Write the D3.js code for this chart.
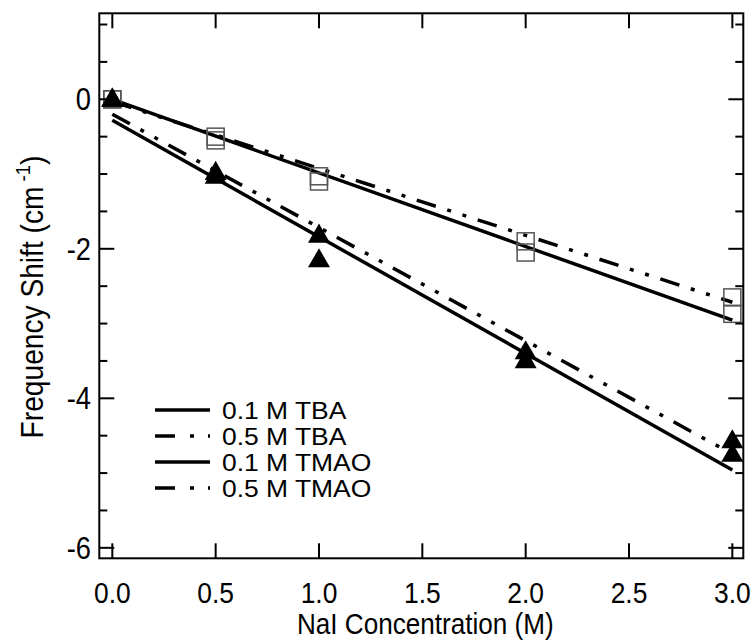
<!DOCTYPE html>
<html>
<head>
<meta charset="utf-8">
<script src="https://cdn.jsdelivr.net/npm/d3@7"></script>
<style>
  html, body { margin: 0; padding: 0; background: #fff; }
  svg text { font-family: "Liberation Sans", Arial, sans-serif; fill: #000; }
</style>
</head>
<body>
<svg id="chart" width="754" height="640"></svg>
<script>
// NaI concentration (M) at which shifts were measured
const concentrations = [0.0, 0.5, 1.0, 2.0, 3.0];

// Measured frequency shifts (cm^-1)
const tba01 = [0.0, -0.55, -1.10, -2.05, -2.87];
const tba05 = [0.0, -0.50, -1.03, -1.90, -2.65];
const tmao01 = [0.0, -1.03, -2.15, -3.50, -4.75];
const tmao05 = [0.0, -0.98, -1.82, -3.38, -4.57];

// Linear fits: shift = intercept + slope * [NaI]
const seriesNames = ["0.1 M TBA", "0.5 M TBA", "0.1 M TMAO", "0.5 M TMAO"];
const fitIntercept = [0.0, -0.03, -0.28, -0.20];
const fitSlope = [-0.985, -0.895, -1.56, -1.515];
const fitDashed = [false, true, false, true];

// Axis ticks
const xTicks = [0.0, 0.5, 1.0, 1.5, 2.0, 2.5, 3.0];
const yMajorTicks = [0, -2, -4, -6];
const yMinorTicks = d3.range(1, -6.01, -0.5);

const svg = d3.select("#chart");
const plotLeft = 99.3, plotRight = 743.3, plotTop = 13.3, plotBottom = 558.3;

const x = d3.scaleLinear().domain([-0.063, 3.053]).range([plotLeft, plotRight]);
const y = d3.scaleLinear().domain([1.15, -6.14]).range([plotTop, plotBottom]);

const dashPattern = "20,12,4,12,4,12";

// Fit lines
const fitLine = d3.line().x(d => x(d[0])).y(d => y(d[1]));
seriesNames.forEach((name, i) => {
  const pts = [0, 3].map(c => [c, fitIntercept[i] + fitSlope[i] * c]);
  svg.append("path")
    .attr("d", fitLine(pts))
    .attr("fill", "none")
    .attr("stroke", "#000")
    .attr("stroke-width", 3.5)
    .attr("stroke-dasharray", fitDashed[i] ? dashPattern : null);
});

// Open squares for TBA
const sq = 17;
[tba01, tba05].forEach(vals => {
  svg.append("g").selectAll("rect").data(vals).join("rect")
    .attr("x", (d, i) => x(concentrations[i]) - sq / 2)
    .attr("y", d => y(d) - sq / 2)
    .attr("width", sq).attr("height", sq)
    .attr("fill", "none")
    .attr("stroke", "#555")
    .attr("stroke-width", 1.5);
});

// Filled triangles for TMAO
const tri = d3.symbol().type(d3.symbolTriangle).size(210);
[tmao01, tmao05].forEach(vals => {
  svg.append("g").selectAll("path").data(vals).join("path")
    .attr("d", tri)
    .attr("transform", (d, i) => `translate(${x(concentrations[i])},${y(d) + 1})`)
    .attr("fill", "#000");
});

// Frame
svg.append("rect")
  .attr("x", plotLeft).attr("y", plotTop)
  .attr("width", plotRight - plotLeft).attr("height", plotBottom - plotTop)
  .attr("fill", "none").attr("stroke", "#000").attr("stroke-width", 2);

// Inward ticks on all four sides
const tickG = svg.append("g").attr("stroke", "#000").attr("stroke-width", 2);
xTicks.forEach(t => {
  tickG.append("line").attr("x1", x(t)).attr("x2", x(t)).attr("y1", plotBottom).attr("y2", plotBottom - 15);
  tickG.append("line").attr("x1", x(t)).attr("x2", x(t)).attr("y1", plotTop).attr("y2", plotTop + 15);
});
yMinorTicks.forEach(t => {
  const len = yMajorTicks.includes(Math.round(t * 100) / 100) ? 15 : 8;
  tickG.append("line").attr("x1", plotLeft).attr("x2", plotLeft + len).attr("y1", y(t)).attr("y2", y(t));
  tickG.append("line").attr("x1", plotRight).attr("x2", plotRight - len).attr("y1", y(t)).attr("y2", y(t));
});

// Tick labels
const fmt = d3.format(".1f");
svg.append("g").selectAll("text").data(xTicks).join("text")
  .attr("transform", d => `translate(${x(d)},603) scale(0.88,1)`)
  .attr("text-anchor", "middle")
  .attr("font-size", 30)
  .text(d => fmt(d));

svg.append("g").selectAll("text").data(yMajorTicks).join("text")
  .attr("transform", d => `translate(91,${y(d) + 11}) scale(0.88,1)`)
  .attr("text-anchor", "end")
  .attr("font-size", 31)
  .text(d => d);

// Axis titles
svg.append("text")
  .attr("transform", `translate(${(plotLeft + plotRight) / 2 + 4},634) scale(0.9,1)`)
  .attr("text-anchor", "middle")
  .attr("font-size", 29)
  .text("NaI Concentration (M)");

const yTitle = svg.append("text")
  .attr("transform", `translate(43,297) rotate(-90) scale(0.88,1)`)
  .attr("text-anchor", "middle")
  .attr("font-size", 32);
yTitle.append("tspan").text("Frequency Shift (cm");
yTitle.append("tspan").attr("dy", -13).attr("font-size", 21).text(" -1");
yTitle.append("tspan").attr("dy", 13).text(")");

// Legend
const legendRowY = [410, 436, 462, 488];
const legend = svg.append("g");
seriesNames.forEach((name, i) => {
  legend.append("line")
    .attr("x1", 155).attr("x2", 210)
    .attr("y1", legendRowY[i]).attr("y2", legendRowY[i])
    .attr("stroke", "#000").attr("stroke-width", 3.5)
    .attr("stroke-dasharray", fitDashed[i] ? "20,15,4,14,2,20" : null);
  legend.append("text")
    .attr("transform", `translate(222,${legendRowY[i] + 8.5}) scale(1.14,1)`)
    .attr("font-size", 23.2)
    .text(name);
});
</script>
</body>
</html>
